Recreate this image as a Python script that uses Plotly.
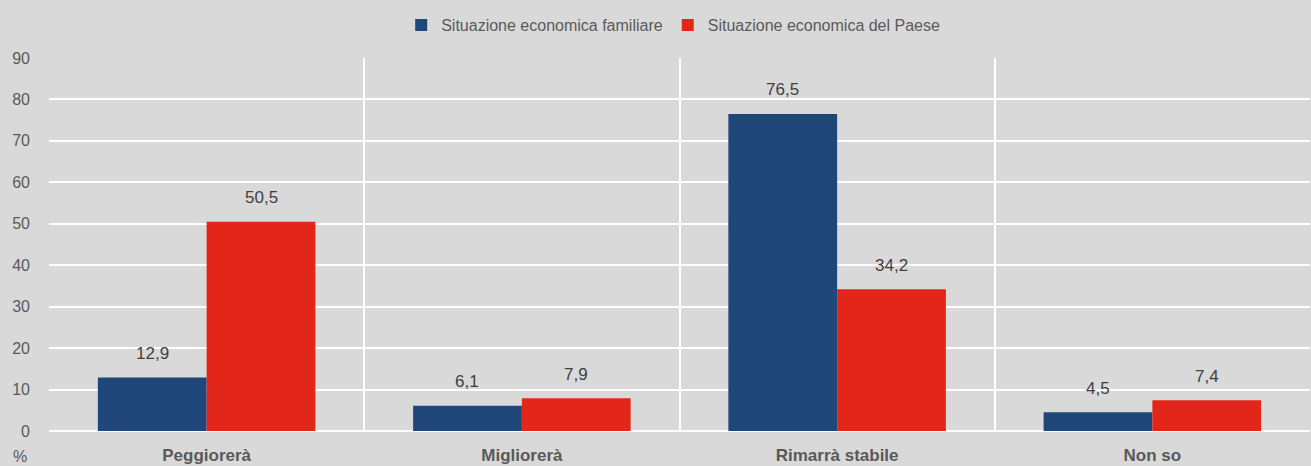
import plotly.graph_objects as go

categories = ["Peggiorerà", "Migliorerà", "Rimarrà stabile", "Non so"]
familiare = [12.9, 6.1, 76.5, 4.5]
paese = [50.5, 7.9, 34.2, 7.4]
series_names = ["Situazione economica familiare", "Situazione economica del Paese"]
y_ticks = [0, 10, 20, 30, 40, 50, 60, 70, 80, 90]

BLUE = "#1f477a"
RED = "#e3261a"
BG = "#d9d9d9"
FONT = "Liberation Sans, Arial, sans-serif"
GRAY = "#595959"

fig = go.Figure()
fig.add_trace(go.Bar(x=categories, y=familiare, name=series_names[0],
                     marker=dict(color=BLUE, line=dict(width=0))))
fig.add_trace(go.Bar(x=categories, y=paese, name=series_names[1],
                     marker=dict(color=RED, line=dict(width=0))))

W = 1311
plot_w = 1310 - 49
cat_w = plot_w / len(categories)
bargap = 0.31
bar_w = cat_w * (1 - bargap) / 2

for vals, sign in ((familiare, -1), (paese, 1)):
    for c, v in zip(categories, vals):
        fig.add_annotation(x=c, y=v, xref="x", yref="y",
                           text=f"{v:.1f}".replace(".", ","),
                           showarrow=False, xshift=sign * bar_w / 2, yshift=24,
                           font=dict(family=FONT, size=17, color="#404040"))

fig.add_annotation(text="%", xref="paper", yref="paper", x=0, y=0,
                   xanchor="center", yanchor="middle",
                   xshift=-29, yshift=-25, showarrow=False,
                   font=dict(family=FONT, size=16, color=GRAY))

fig.update_layout(
    width=W, height=466,
    paper_bgcolor=BG, plot_bgcolor=BG,
    margin=dict(l=49, r=1, t=58, b=35),
    barmode="group", bargap=bargap, bargroupgap=0,
    separators=",.",
    showlegend=True,
    legend=dict(orientation="h", xref="paper", yref="container",
                x=0.495, y=1 - 25 / 466, xanchor="center", yanchor="middle",
                font=dict(family=FONT, size=16, color=GRAY),
                bgcolor="rgba(0,0,0,0)", itemwidth=30),
    xaxis=dict(type="category", tickson="boundaries", showgrid=True,
               gridcolor="white", gridwidth=2, ticks="", showline=False,
               automargin=False,
               tickfont=dict(family=FONT, size=17, color=GRAY, weight="bold"),
               ticklabelstandoff=12),
    yaxis=dict(range=[0, 90], tickvals=y_ticks, showgrid=True, gridcolor="white",
               gridwidth=2, zeroline=True, zerolinecolor="white", zerolinewidth=2,
               showline=False, ticks="", automargin=False,
               tickfont=dict(family=FONT, size=16, color=GRAY), ticklabelstandoff=18),
    font=dict(family=FONT),
)

fig.write_html("out.html", config={"displayModeBar": False},
               post_script="document.body.style.margin='0';document.body.style.background='#d9d9d9';")
